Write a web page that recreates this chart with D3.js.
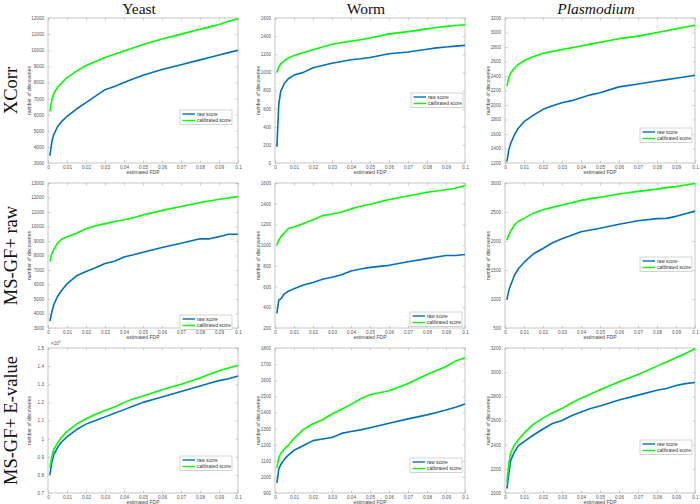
<!DOCTYPE html>
<html><head><meta charset="utf-8">
<script src="https://cdn.jsdelivr.net/npm/d3@7"></script>
<style>body{margin:0;background:#fff}svg{display:block}</style>
</head><body>
<svg id="c" width="700" height="504"></svg>
<script>
// ---------------- DATA ----------------
const species = ["Yeast", "Worm", "Plasmodium"];
const methods = ["XCorr", "MS-GF+ raw", "MS-GF+ E-value"];
const seriesNames = ["raw score", "calibrated score"];
const xTicks = [0, 0.01, 0.02, 0.03, 0.04, 0.05, 0.06, 0.07, 0.08, 0.09, 0.1];
const fdp = [0.001, 0.002, 0.003, 0.005, 0.007, 0.01, 0.015, 0.02, 0.025, 0.03, 0.035, 0.04, 0.045, 0.05, 0.06, 0.07, 0.08, 0.085, 0.09, 0.095, 0.1];

// XCorr
const yeastXcorrRaw = [3450, 4300, 4750, 5250, 5550, 5900, 6350, 6750, 7150, 7550, 7750, 8000, 8230, 8450, 8800, 9100, 9400, 9550, 9700, 9850, 10000];
const yeastXcorrCal = [6200, 6900, 7300, 7700, 7950, 8300, 8700, 9050, 9300, 9550, 9750, 9950, 10150, 10350, 10700, 11000, 11300, 11450, 11600, 11800, 11950];
const wormXcorrRaw = [180, 650, 790, 880, 930, 970, 1000, 1050, 1075, 1100, 1120, 1140, 1150, 1165, 1205, 1225, 1255, 1270, 1280, 1290, 1298];
const wormXcorrCal = [1000, 1060, 1095, 1130, 1160, 1185, 1220, 1250, 1280, 1310, 1330, 1345, 1360, 1380, 1425, 1450, 1480, 1495, 1508, 1518, 1526];
const plasXcorrRaw = [1220, 1380, 1470, 1590, 1680, 1770, 1860, 1940, 1990, 2030, 2060, 2100, 2140, 2170, 2250, 2290, 2330, 2350, 2370, 2390, 2410];
const plasXcorrCal = [2260, 2380, 2440, 2510, 2560, 2610, 2670, 2715, 2740, 2765, 2790, 2815, 2840, 2865, 2915, 2950, 3000, 3025, 3050, 3075, 3100];
// MS-GF+ raw
const yeastMsgfRaw = [3480, 4100, 4590, 5170, 5550, 6050, 6600, 6890, 7150, 7450, 7600, 7900, 8050, 8230, 8550, 8850, 9150, 9150, 9300, 9470, 9470];
const yeastMsgfCal = [7590, 8150, 8400, 8850, 9100, 9300, 9540, 9840, 10050, 10200, 10350, 10460, 10600, 10800, 11110, 11380, 11650, 11760, 11880, 11970, 12060];
const wormMsgfRaw = [340, 470, 480, 530, 555, 580, 615, 640, 670, 690, 715, 750, 770, 785, 805, 840, 870, 885, 900, 900, 910];
const wormMsgfCal = [1000, 1050, 1080, 1120, 1160, 1175, 1210, 1245, 1285, 1300, 1320, 1350, 1375, 1395, 1440, 1475, 1510, 1522, 1535, 1550, 1575];
const plasMsgfRaw = [990, 1150, 1240, 1410, 1520, 1630, 1780, 1870, 1970, 2040, 2100, 2160, 2190, 2220, 2290, 2350, 2385, 2390, 2425, 2470, 2515];
const plasMsgfCal = [2015, 2110, 2170, 2280, 2340, 2390, 2480, 2540, 2580, 2620, 2660, 2700, 2730, 2755, 2810, 2855, 2895, 2920, 2940, 2965, 2990];
// MS-GF+ E-value
const yeastEvalRaw = [8000, 8700, 9100, 9500, 9800, 10100, 10500, 10800, 11000, 11200, 11400, 11600, 11800, 12000, 12300, 12600, 12900, 13050, 13200, 13300, 13450];
const yeastEvalCal = [8400, 9000, 9400, 9750, 10050, 10400, 10800, 11100, 11350, 11550, 11750, 12000, 12200, 12350, 12700, 13000, 13350, 13550, 13750, 13900, 14050];
const wormEvalRaw = [962, 1050, 1075, 1110, 1135, 1165, 1195, 1225, 1235, 1245, 1270, 1282, 1292, 1305, 1333, 1360, 1385, 1400, 1415, 1432, 1452];
const wormEvalCal = [1055, 1120, 1145, 1175, 1195, 1240, 1295, 1330, 1355, 1390, 1420, 1450, 1485, 1510, 1535, 1580, 1635, 1660, 1685, 1720, 1740];
const plasEvalRaw = [2036, 2160, 2270, 2340, 2390, 2425, 2480, 2530, 2575, 2600, 2640, 2670, 2700, 2720, 2770, 2810, 2850, 2865, 2890, 2905, 2915];
const plasEvalCal = [2090, 2245, 2330, 2400, 2440, 2495, 2570, 2620, 2665, 2700, 2745, 2785, 2820, 2855, 2920, 2980, 3050, 3085, 3120, 3155, 3195];

const yDomains = [[3000, 12000], [0, 1600], [1200, 3200], [3000, 13000], [200, 1600], [500, 3000], [7000, 15000], [900, 1800], [2000, 3200]];
const yTickSteps = [1000, 200, 200, 1000, 200, 500, 1000, 100, 200];

const panelSeries = [
  [yeastXcorrRaw, yeastXcorrCal], [wormXcorrRaw, wormXcorrCal], [plasXcorrRaw, plasXcorrCal],
  [yeastMsgfRaw, yeastMsgfCal], [wormMsgfRaw, wormMsgfCal], [plasMsgfRaw, plasMsgfCal],
  [yeastEvalRaw, yeastEvalCal], [wormEvalRaw, wormEvalCal], [plasEvalRaw, plasEvalCal]
];

// ---------------- LAYOUT ----------------
const colors = ["#0072BD", "#00FF00"];
const colLeft = [48, 275, 505];
const rowTop = [18, 183, 348];
const pw = 190, ph = 145;
const legendPos = [[180, 110], [411, 93], [640, 128], [180, 315], [410, 312], [640, 257], [180, 456], [410, 458], [640, 440]];

const svg = d3.select("#c");
const sans = "Liberation Sans, Arial, sans-serif";
const serif = "Liberation Serif, Times New Roman, serif";

// column titles
species.forEach((s, i) => {
  svg.append("text").attr("x", colLeft[i] + pw / 2 - 4).attr("y", 13.5)
    .attr("text-anchor", "middle").attr("font-family", serif).attr("font-size", 15.5)
    .attr("font-style", i === 2 ? "italic" : "normal").attr("fill", "#111").text(s);
});
// row titles
methods.forEach((m, j) => {
  const cy = rowTop[j] + ph / 2;
  svg.append("text").attr("transform", `translate(17,${cy}) rotate(-90)`)
    .attr("text-anchor", "middle").attr("font-family", serif).attr("font-size", 18.5)
    .attr("fill", "#111").text(m);
});

const x = d3.scaleLinear().domain([0, 0.1]);

panelSeries.forEach((ser, k) => {
  const r = Math.floor(k / 3), c = k % 3;
  const L = colLeft[c], T = rowTop[r];
  const g = svg.append("g").attr("transform", `translate(${L},${T})`);
  const xs = x.copy().range([0, pw]);
  const dom = yDomains[k];
  const ys = d3.scaleLinear().domain(dom).range([ph, 0]);
  const yt = d3.range(dom[0], dom[1] + 1e-9, yTickSteps[k]);
  const isE4 = (k === 6);
  const fmtY = v => isE4 ? String(+(v / 1e4).toFixed(1)) : String(v);
  const fmtX = v => String(+v.toFixed(2));

  // frame
  g.append("rect").attr("width", pw).attr("height", ph).attr("fill", "#fff")
    .attr("stroke", "#b8b8b8").attr("stroke-width", 0.8);

  const ax = d3.axisBottom(xs).tickValues(xTicks).tickFormat(fmtX).tickSize(-2.5).tickPadding(2.5);
  const axT = d3.axisTop(xs).tickValues(xTicks).tickFormat("").tickSize(-2.5);
  const ay = d3.axisLeft(ys).tickValues(yt).tickFormat(fmtY).tickSize(-2.5).tickPadding(4);
  const ayR = d3.axisRight(ys).tickValues(yt).tickFormat("").tickSize(-2.5);

  const style = sel => {
    sel.select(".domain").remove();
    sel.selectAll(".tick line").attr("stroke", "#b0b0b0").attr("stroke-width", 0.6);
    sel.selectAll(".tick text").attr("fill", "#555").attr("font-size", 4.6).attr("font-family", sans);
  };
  g.append("g").attr("transform", `translate(0,${ph})`).call(ax).call(style);
  g.append("g").call(axT).call(style);
  g.append("g").call(ay).call(style);
  g.append("g").attr("transform", `translate(${pw},0)`).call(ayR).call(style);

  if (isE4) {
    const t = g.append("text").attr("x", 3).attr("y", -3).attr("font-family", sans)
      .attr("font-size", 4.6).attr("fill", "#555");
    t.append("tspan").text("\u00d710");
    t.append("tspan").attr("dy", -2).attr("font-size", 3.4).text("4");
  }

  // axis labels
  g.append("text").attr("transform", `translate(${c === 0 ? -17 : -15},${ph / 2}) rotate(-90)`)
    .attr("text-anchor", "middle").attr("font-family", sans).attr("font-size", 5)
    .attr("fill", "#444").text("number of discoveries");
  g.append("text").attr("x", pw / 2).attr("y", ph + 11).attr("text-anchor", "middle")
    .attr("font-family", sans).attr("font-size", 5).attr("fill", "#444").text("estimated FDP");

  // lines
  const line = d3.line().x((d, i) => xs(fdp[i])).y(d => ys(d));
  ser.forEach((vals, si) => {
    g.append("path").datum(vals).attr("d", line).attr("fill", "none")
      .attr("stroke", colors[si]).attr("stroke-width", 1.6).attr("stroke-linejoin", "round");
  });

  // legend
  const [lx, ly] = legendPos[k];
  const lg = svg.append("g").attr("transform", `translate(${lx},${ly})`);
  lg.append("rect").attr("width", 52).attr("height", 14.5).attr("fill", "#fff")
    .attr("stroke", "#b8b8b8").attr("stroke-width", 0.6);
  seriesNames.forEach((n, si) => {
    const yy = 4 + si * 6.5;
    lg.append("line").attr("x1", 2.5).attr("x2", 15).attr("y1", yy).attr("y2", yy)
      .attr("stroke", colors[si]).attr("stroke-width", 1.4);
    lg.append("text").attr("x", 17).attr("y", yy + 1.7).attr("font-family", sans)
      .attr("font-size", 4.8).attr("fill", "#333").text(n);
  });
});
</script>
</body></html>
